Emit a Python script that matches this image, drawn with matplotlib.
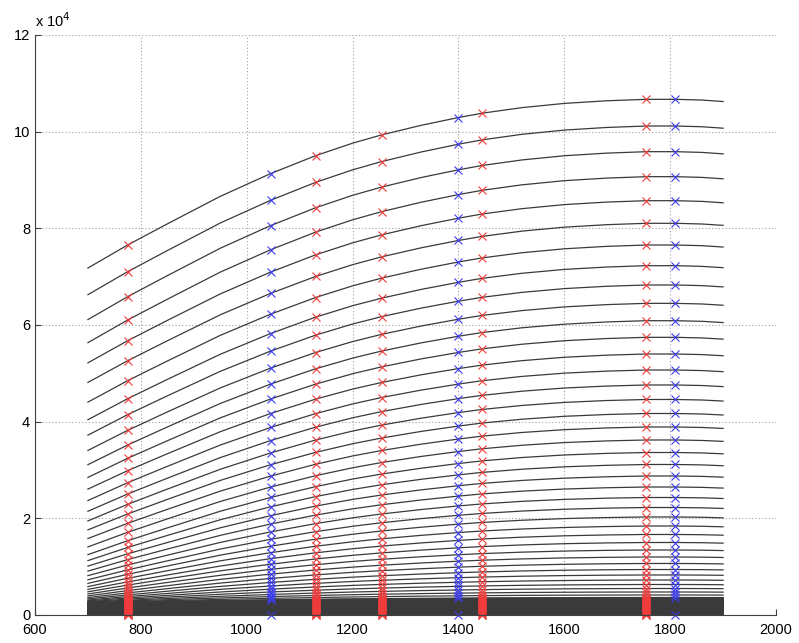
# Family of curves with marker columns, MATLAB style
import numpy as np
import matplotlib
matplotlib.use('Agg')
import matplotlib.pyplot as plt

plt.rcParams['font.family'] = ['Liberation Sans', 'DejaVu Sans']

# x positions where every curve is sampled (marker columns included)
x_knots = [700, 775, 850, 950, 1045, 1130, 1200, 1255, 1330, 1400, 1445,
           1520, 1600, 1680, 1755, 1810, 1860, 1900]
# relative rise of a curve between x=775 (0) and x=1755 (1)
shape = [-0.158, 0.0, 0.145, 0.334, 0.49, 0.613, 0.699, 0.756, 0.822, 0.875, 0.905,
         0.943, 0.972, 0.99, 1.0, 1.0, 0.995, 0.985]

# value of each curve at x=775 and at x=1755
level_left = [76550, 71030, 65860, 61030, 56750, 52610, 48480, 44750, 41450, 38200,
              35170, 32420, 29860, 27370, 25030, 22900, 20900, 18970, 17110, 15370,
              13970, 12660, 11460, 10350, 9330, 8420, 7590, 6850, 6190, 5590,
              5050, 4570, 4160, 3810, 3520, 3270, 3060, 2900, 2770, 2690,
              # dense bottom band
              2600, 2450, 2300, 2150, 2000, 1850, 1700, 1550, 1400, 1250,
              1100, 950, 800, 650, 500, 380, 260, 150, 60, 0]
level_right = [106690, 101170, 95860, 90690, 85720, 81040, 76550, 72270, 68280, 64480,
               60890, 57450, 54000, 50690, 47590, 44590, 41690, 38900, 36210, 33620,
               31140, 28760, 26480, 24310, 22240, 20280, 18410, 16660, 15000, 13450,
               12000, 10660, 9410, 8280, 7240, 6310, 5480, 4760, 4140, 3620,
               3450, 3280, 3100, 2920, 2740, 2560, 2380, 2190, 2000, 1800,
               1600, 1400, 1200, 1000, 780, 590, 400, 230, 90, 0]

red_cols = [775, 1130, 1255, 1445, 1755]
blue_cols = [1045, 1400, 1810]
n_main = 40  # curves above the dark band (the blue columns mark only these)

x_knots = np.array(x_knots)
shape = np.array(shape)
curves = [lo + (hi - lo) * shape for lo, hi in zip(level_left, level_right)]

fig = plt.figure(figsize=(7.99, 6.43), dpi=100)
ax = fig.add_axes([35 / 799, 28 / 643, 741 / 799, 580 / 643])

for k, c in enumerate(curves):
    ax.plot(x_knots, c, color='#3a3a3a', lw=0.9 if k < n_main else 1.3)

for col in red_cols:
    i = list(x_knots).index(col)
    ys = [c[i] for c in curves]
    ax.plot([col] * len(ys), ys, ls='none', marker='x', ms=6, mew=0.8,
            color='#f03c3c', clip_on=False)

for col in blue_cols:
    i = list(x_knots).index(col)
    ys = [c[i] for c in curves[:n_main]] + [curves[-1][i]]
    ax.plot([col] * len(ys), ys, ls='none', marker='x', ms=6, mew=0.8,
            color='#3c3cf0', clip_on=False)

ax.set_xlim(600, 2000)
ax.set_ylim(0, 120000)
ax.set_xticks(range(600, 2001, 200))
ax.set_yticks(range(0, 120001, 20000))
ax.set_yticklabels([str(v) for v in range(0, 13, 2)])
ax.grid(True, color='#a0a0a0', linestyle=(0, (1, 2)), lw=0.8)
ax.tick_params(direction='in', length=4, labelsize=10.5, color='#404040')
ax.tick_params(axis='x', pad=6)
for s in ['top', 'right']:
    ax.spines[s].set_visible(False)
for s in ['left', 'bottom']:
    ax.spines[s].set_color('#404040')
ax.text(0, 1.008, r'x 10$^{4}$', transform=ax.transAxes, fontsize=10.5,
        ha='left', va='bottom')

fig.savefig('out.png', dpi=100)
